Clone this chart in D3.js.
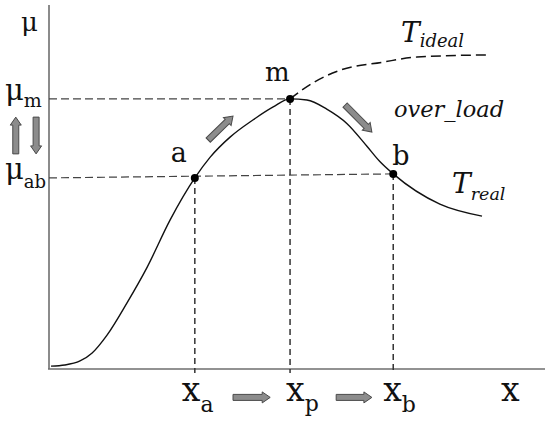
<!DOCTYPE html>
<html><head><meta charset="utf-8">
<script src="https://cdn.jsdelivr.net/npm/d3@7"></script>
<style>html,body{margin:0;padding:0;background:#fff}svg{display:block}</style>
</head><body>
<script>
// ---- data (x: 0..100, y: 0..100 abstract units) ----
const realX = [0.4, 3.2, 6.25, 8.7, 11.7, 15.7, 19.8, 24.4, 29.4, 32.5, 36.5, 41.1, 45.2, 48.6, 52.0, 56.0, 60.1, 64.1, 66.7, 69.4, 78.8, 87.3];
const realY = [0.8, 1.1, 2.2, 4.4, 9.3, 18.1, 28.0, 40.9, 52.5, 58.2, 63.7, 68.4, 72.0, 74.2, 73.9, 71.4, 67.4, 61.2, 57.0, 53.6, 45.3, 42.0];
const idealX = [48.6, 53.2, 58.7, 67.3, 74.2, 88.9];
const idealY = [74.2, 78.6, 82.1, 84.3, 85.7, 86.3];
const pointNames = ["a", "m", "b"];
const pointX = [29.4, 48.6, 69.4];
const pointY = [52.5, 74.2, 53.6];
// block arrows: [x1, y1, x2, y2]
const arrowsFrom = [[32.1, 62.9], [59.7, 72.5], [37.1, -7.8], [57.9, -7.8], [-6.7, 59.1], [-2.6, 69.2]];
const arrowsTo   = [[37.1, 69.5], [65.1, 65.1], [44.6, -7.8], [65.1, -7.8], [-6.7, 69.2], [-2.6, 59.1]];

const W = 550, H = 422;
const x = d3.scaleLinear().domain([0, 100]).range([49, 545]);
const y = d3.scaleLinear().domain([0, 100]).range([369, 5]);

const svg = d3.select("body").append("svg").attr("width", W).attr("height", H);
const serif = "'DejaVu Serif', 'Liberation Serif', serif";

// axes
svg.append("line").attr("x1", x(0)).attr("x2", x(0)).attr("y1", y(100)).attr("y2", y(0))
  .attr("stroke", "#6e6e6e").attr("stroke-width", 1.6);
svg.append("line").attr("x1", x(0) - 1).attr("x2", x(100)).attr("y1", y(0)).attr("y2", y(0))
  .attr("stroke", "#6e6e6e").attr("stroke-width", 1.6);

// horizontal dashed guides
svg.append("line").attr("x1", x(0)).attr("y1", y(pointY[1])).attr("x2", x(pointX[1])).attr("y2", y(pointY[1]))
  .attr("stroke", "#444").attr("stroke-width", 1.2).attr("stroke-dasharray", "8,4");
svg.append("line").attr("x1", x(0)).attr("y1", y(pointY[0])).attr("x2", x(pointX[2])).attr("y2", y(pointY[2]))
  .attr("stroke", "#444").attr("stroke-width", 1.2).attr("stroke-dasharray", "8,4");
// vertical dashed guides
pointX.forEach((px, i) => {
  svg.append("line").attr("x1", x(px)).attr("x2", x(px)).attr("y1", y(pointY[i])).attr("y2", y(0) + 4)
    .attr("stroke", "#333").attr("stroke-width", 1.5).attr("stroke-dasharray", "6,4");
});

// curves
const line = d3.line().x(d => x(d[0])).y(d => y(d[1])).curve(d3.curveMonotoneX);
svg.append("path").datum(realX.map((v, i) => [v, realY[i]])).attr("d", line)
  .attr("fill", "none").attr("stroke", "#111").attr("stroke-width", 1.4);
svg.append("path").datum(idealX.map((v, i) => [v, idealY[i]])).attr("d", line)
  .attr("fill", "none").attr("stroke", "#111").attr("stroke-width", 1.5).attr("stroke-dasharray", "10,5");

// points
svg.selectAll("circle.pt").data(pointX).enter().append("circle")
  .attr("cx", (d) => x(d)).attr("cy", (d, i) => y(pointY[i])).attr("r", 4).attr("fill", "#000");

// block arrows
arrowsFrom.forEach((f, i) => {
  const t = arrowsTo[i];
  const x1 = x(f[0]), y1 = y(f[1]), x2 = x(t[0]), y2 = y(t[1]);
  const L = Math.hypot(x2 - x1, y2 - y1);
  const ang = Math.atan2(y2 - y1, x2 - x1) * 180 / Math.PI;
  const w = 3, h = 5.5, hl = 8;
  const pts = [[0, -w], [L - hl, -w], [L - hl, -h], [L, 0], [L - hl, h], [L - hl, w], [0, w]];
  svg.append("path").attr("d", "M" + pts.map(p => p.join(",")).join("L") + "Z")
    .attr("transform", `translate(${x1},${y1}) rotate(${ang})`)
    .attr("fill", "#8c8c8c").attr("stroke", "#4a4a4a").attr("stroke-width", 1);
});

// text helpers
function label(px, py, main, size, sub, subSize, dy, italic) {
  const t = svg.append("text").attr("x", px).attr("y", py)
    .attr("font-family", serif).attr("font-size", size).attr("fill", "#111")
    .attr("font-style", italic ? "italic" : "normal");
  t.append("tspan").text(main);
  if (sub) t.append("tspan").attr("dy", dy).attr("font-size", subSize).text(sub);
  return t;
}
// y-axis labels
label(21, 31, "μ", 26);
label(5, 100, "μ", 29, "m", 19, 7);
label(5, 179, "μ", 29, "ab", 18, 9);
// point labels
label(x(pointX[0]) - 24, y(pointY[0]) - 16, pointNames[0], 27);
label(x(pointX[1]) - 25, y(pointY[1]) - 18, pointNames[1], 26);
label(x(pointX[2]) - 1, y(pointY[2]) - 9, pointNames[2], 27);
// x-axis labels
label(x(pointX[0]) - 13, 401, "x", 33, "a", 22, 11);
label(x(pointX[1]) - 4, 401, "x", 33, "p", 22, 10);
label(x(pointX[2]) - 10, 401, "x", 33, "b", 22, 11);
label(501, 401, "x", 33);
// curve labels
label(401, 42, "T", 28, "ideal", 18, 5, true);
label(394, 117, "over_load", 22.5, null, 0, 0, true);
label(452, 193, "T", 28, "real", 17.5, 7, true);
</script>
</body></html>
